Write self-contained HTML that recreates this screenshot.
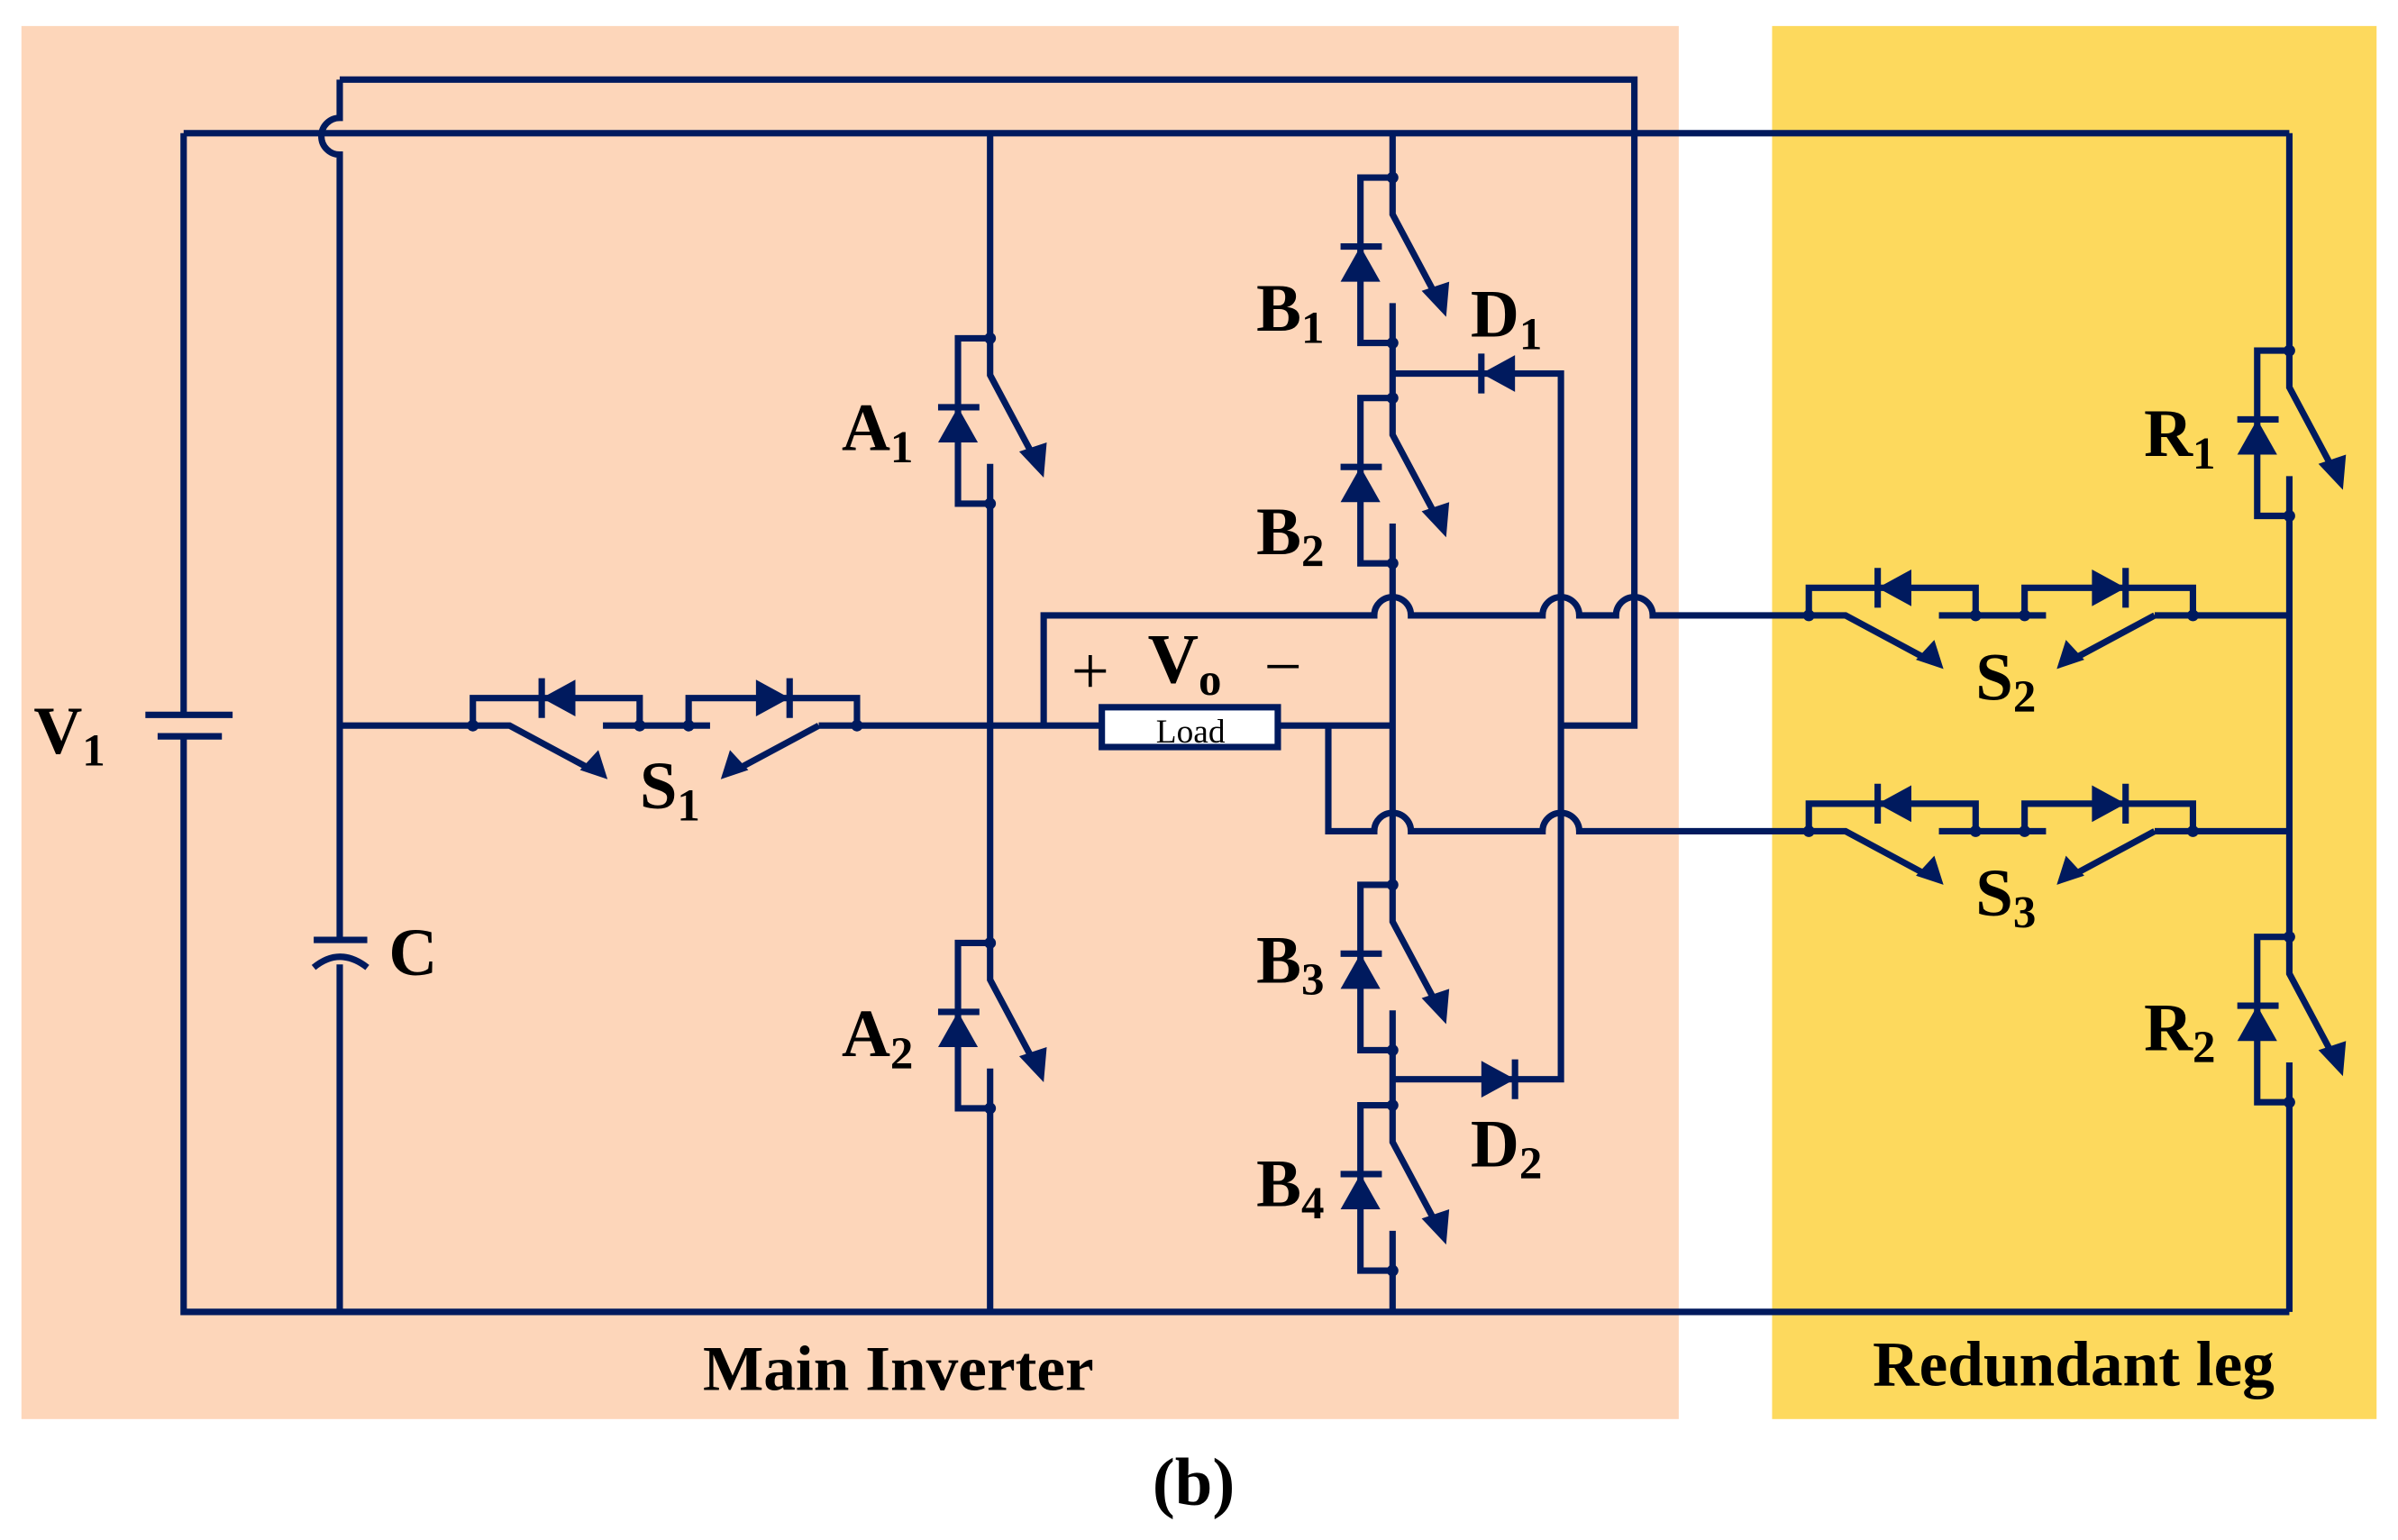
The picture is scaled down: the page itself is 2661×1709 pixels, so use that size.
<!DOCTYPE html>
<html><head><meta charset="utf-8"><style>
html,body{margin:0;padding:0;background:#fff;}
svg{display:block;}
text{font-family:"Liberation Serif",serif;font-weight:bold;fill:#000;}
</style></head><body>
<svg width="2661" height="1709" viewBox="0 0 1567 1006" preserveAspectRatio="none" xmlns="http://www.w3.org/2000/svg">
<rect x="0" y="0" width="1567" height="1006" fill="#fff"/>
<rect x="14" y="17" width="1083" height="910" fill="#fdd6ba"/>
<rect x="1158" y="17" width="395" height="910" fill="#fdd95d"/>
<defs>
<g id="vsw">
  <path d="M0,0 V24 L32,84 M0,82 V108 M0,0 H-21 V108 H0" fill="none"/>
  <path d="M35,91 L19,74 L37,68 Z" fill="#001a5e" stroke="none"/>
  <path d="M-34,45 H-7" fill="none"/>
  <path d="M-21,45 L-34,68 L-8,68 Z" fill="#001a5e" stroke="none"/>
  <circle cx="0" cy="0" r="3.8" fill="#001a5e" stroke="none"/>
  <circle cx="0" cy="108" r="3.8" fill="#001a5e" stroke="none"/>
</g>
<g id="bsw">
  <path d="M0,0 V-18 H109 V0 M141,0 V-18 H251 V0" fill="none"/>
  <path d="M0,0 H24 L78,29 M85,0 H155 M226,0 H251 M226,0 L172,29" fill="none"/>
  <path d="M88,35 L70,29 L82,16 Z" fill="#001a5e" stroke="none"/>
  <path d="M162,35 L180,29 L168,16 Z" fill="#001a5e" stroke="none"/>
  <path d="M45,-31 V-5" fill="none"/>
  <path d="M45,-18 L67,-30 L67,-6 Z" fill="#001a5e" stroke="none"/>
  <path d="M207,-31 V-5" fill="none"/>
  <path d="M207,-18 L185,-30 L185,-6 Z" fill="#001a5e" stroke="none"/>
  <circle cx="0" cy="0" r="3.8" fill="#001a5e" stroke="none"/>
  <circle cx="109" cy="0" r="3.8" fill="#001a5e" stroke="none"/>
  <circle cx="141" cy="0" r="3.8" fill="#001a5e" stroke="none"/>
  <circle cx="251" cy="0" r="3.8" fill="#001a5e" stroke="none"/>
</g>
</defs>
<g stroke="#001a5e" stroke-width="4.2" fill="none" stroke-linejoin="miter">
  <path d="M120,87 H1496 M120,87 V466 M120,482 V857 H1496"/>
  <path d="M95,467 H152 M103,481 H145"/>
  <path d="M222,52 H1068 V474 H1020 M222,52 V77 A12,12 0 0 0 222,101 V612 M222,630 V857"/>
  <path d="M205,614 H240 M205,632 Q222,618 240,632"/>
  <path d="M222,474 H309 M560,474 H720 M835,474 H910"/>
  <rect x="720" y="462" width="115" height="26" fill="#fff"/>
  <path d="M647,87 V221 M647,329 V616 M647,724 V857"/>
  <path d="M910,87 V116 M910,224 V260 M910,368 V578 M910,686 V722 M910,830 V857"/>
  <path d="M910,244 H1020 V705 H910"/>
  <path d="M682,474 V402 H898 A12,12 0 0 1 922,402 H1008 A12,12 0 0 1 1032,402 H1056 A12,12 0 0 1 1080,402 H1182 M1432,402 H1496"/>
  <path d="M868,474 V543 H898 A12,12 0 0 1 922,543 H1008 A12,12 0 0 1 1032,543 H1182 M1432,543 H1496"/>
  <path d="M1496,87 V229 M1496,337 V612 M1496,720 V857"/>
  <use href="#vsw" x="647" y="221"/>
  <use href="#vsw" x="647" y="616"/>
  <use href="#vsw" x="910" y="116"/>
  <use href="#vsw" x="910" y="260"/>
  <use href="#vsw" x="910" y="578"/>
  <use href="#vsw" x="910" y="722"/>
  <use href="#vsw" x="1496" y="229"/>
  <use href="#vsw" x="1496" y="612"/>
  <use href="#bsw" x="309" y="474"/>
  <use href="#bsw" x="1182" y="402"/>
  <use href="#bsw" x="1182" y="543"/>
  <path d="M968,231 V257"/>
  <path d="M968,244 L990,232 L990,256 Z" fill="#001a5e" stroke="none"/>
  <path d="M990,692 V718"/>
  <path d="M990,705 L968,693 L968,717 Z" fill="#001a5e" stroke="none"/>
</g>
<text x="778" y="485" font-size="22" text-anchor="middle" style="font-weight:normal">Load</text>
<text x="700" y="453" font-size="44" style="font-weight:normal">+</text>
<text x="750" y="446" font-size="46">V<tspan font-size="30" dy="8">o</tspan></text>
<text x="826" y="450" font-size="44" style="font-weight:normal">−</text>
<text x="22" y="492" font-size="44">V<tspan font-size="30" dy="8">1</tspan></text>
<text x="254" y="637" font-size="44">C</text>
<text x="550" y="294" font-size="44">A<tspan font-size="30" dy="8">1</tspan></text>
<text x="550" y="690" font-size="44">A<tspan font-size="30" dy="8">2</tspan></text>
<text x="821" y="216" font-size="44">B<tspan font-size="30" dy="8">1</tspan></text>
<text x="821" y="362" font-size="44">B<tspan font-size="30" dy="8">2</tspan></text>
<text x="821" y="642" font-size="44">B<tspan font-size="30" dy="8">3</tspan></text>
<text x="821" y="788" font-size="44">B<tspan font-size="30" dy="8">4</tspan></text>
<text x="961" y="220" font-size="44">D<tspan font-size="30" dy="8">1</tspan></text>
<text x="961" y="762" font-size="44">D<tspan font-size="30" dy="8">2</tspan></text>
<text x="1401" y="298" font-size="44">R<tspan font-size="30" dy="8">1</tspan></text>
<text x="1401" y="686" font-size="44">R<tspan font-size="30" dy="8">2</tspan></text>
<text x="418" y="528" font-size="44">S<tspan font-size="30" dy="8">1</tspan></text>
<text x="1291" y="457" font-size="44">S<tspan font-size="30" dy="8">2</tspan></text>
<text x="1291" y="598" font-size="44">S<tspan font-size="30" dy="8">3</tspan></text>
<text x="587" y="908" font-size="42" text-anchor="middle">Main Inverter</text>
<text x="1355" y="905" font-size="42" text-anchor="middle">Redundant leg</text>
<text x="780" y="983" font-size="44" text-anchor="middle">(b)</text>
</svg>
</body></html>
